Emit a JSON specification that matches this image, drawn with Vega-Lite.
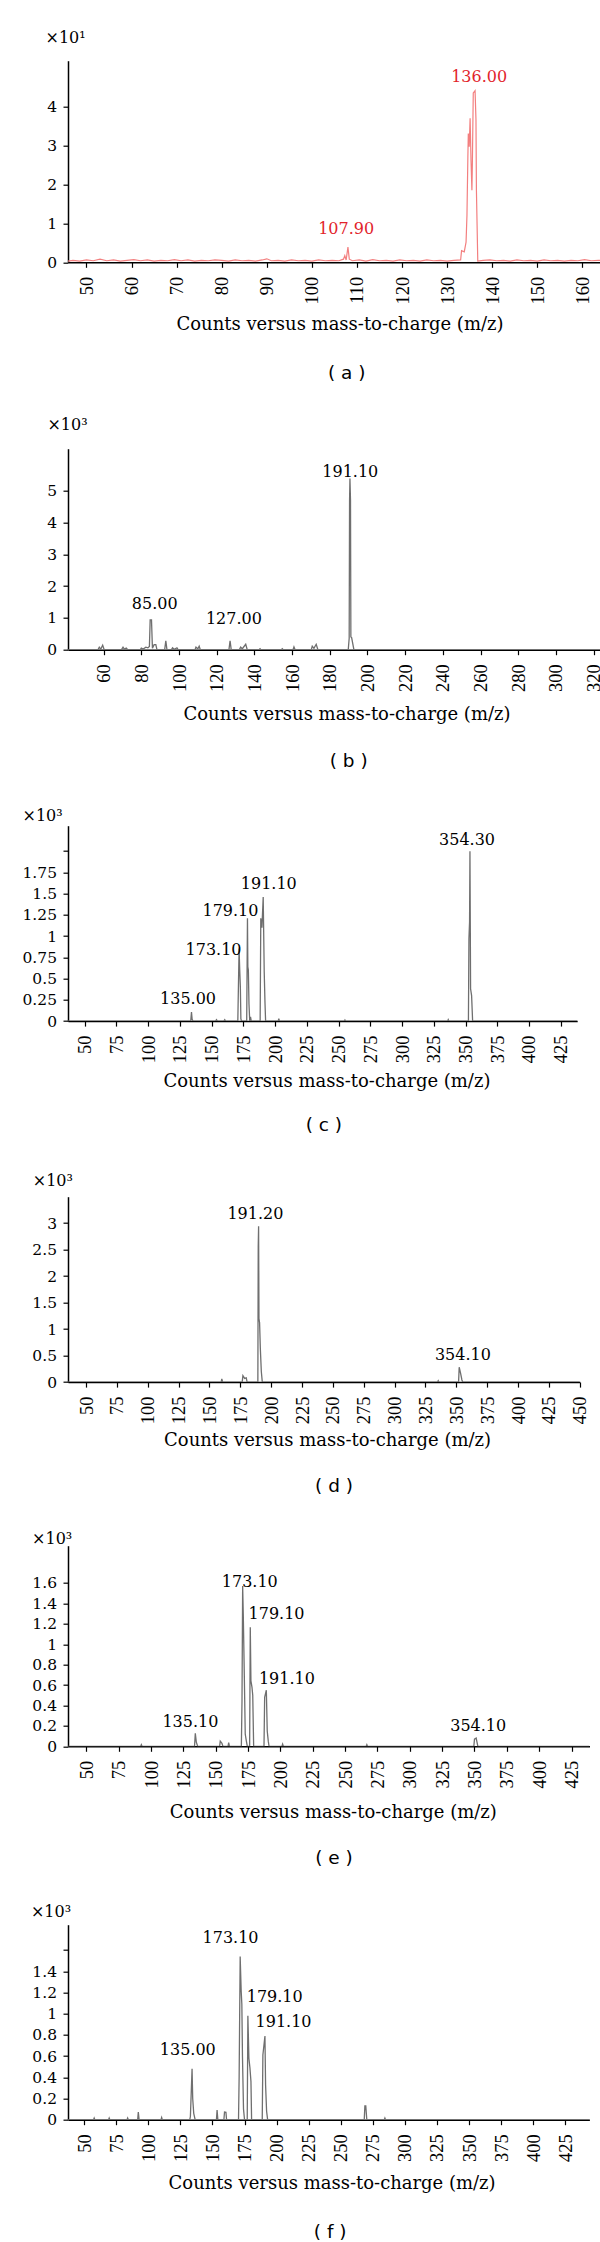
{
  "$schema": "https://vega.github.io/schema/vega-lite/v6.json",
  "background": "white",
  "padding": {"left": 21, "top": 29.7, "right": 0, "bottom": 0},
  "columns": 1,
  "align": "none",
  "spacing": 0,
  "bounds": "full",
  "config": {
    "view": {"stroke": null},
    "axis": {"domainColor": "black", "domainWidth": 1.5, "tickColor": "black", "tickWidth": 1.2, "tickSize": 5, "labelColor": "black", "titleColor": "black", "grid": false, "labelFlush": false, "labelOverlap": false, "titleFontWeight": "normal"},
    "axisX": {"labelAngle": 270, "labelFont": "Liberation Serif", "labelFontSize": 18.5, "labelPadding": 9, "titleFont": "DejaVu Serif", "titleFontSize": 18, "titleAlign": "center", "titleBaseline": "top"},
    "axisY": {"labelExpr": "format(datum.value, '.3~g')", "labelFont": "DejaVu Serif", "labelFontSize": 15.5, "labelPadding": 6.5, "titleFont": "DejaVu Serif", "titleFontSize": 16, "titleAngle": 0, "titleAlign": "left", "titleBaseline": "alphabetic"},
    "title": {"font": "DejaVu Sans", "fontSize": 18.5, "fontWeight": "normal", "color": "black", "orient": "bottom", "frame": "group", "anchor": "middle"},
    "text": {"font": "DejaVu Serif", "fontSize": 16, "align": "center", "baseline": "alphabetic"}
  },
  "datasets": {
    "a": [{"x":45.9,"y":0.03},{"x":47,"y":0.05},{"x":48.5,"y":0.03},{"x":50,"y":0.06},{"x":51.5,"y":0.04},{"x":53,"y":0.08},{"x":54.5,"y":0.04},{"x":56,"y":0.06},{"x":57.5,"y":0.03},{"x":59,"y":0.05},{"x":60.5,"y":0.07},{"x":62,"y":0.04},{"x":63.5,"y":0.06},{"x":65,"y":0.03},{"x":66.5,"y":0.05},{"x":68,"y":0.04},{"x":69.5,"y":0.07},{"x":71,"y":0.04},{"x":72.5,"y":0.06},{"x":74,"y":0.03},{"x":75.5,"y":0.05},{"x":77,"y":0.04},{"x":78.5,"y":0.06},{"x":80,"y":0.05},{"x":81.5,"y":0.03},{"x":83,"y":0.06},{"x":84.5,"y":0.04},{"x":86,"y":0.05},{"x":87.5,"y":0.03},{"x":89,"y":0.06},{"x":90,"y":0.09},{"x":91,"y":0.04},{"x":92.5,"y":0.05},{"x":94,"y":0.03},{"x":95.5,"y":0.06},{"x":97,"y":0.04},{"x":98.5,"y":0.05},{"x":100,"y":0.03},{"x":101.5,"y":0.06},{"x":103,"y":0.04},{"x":104.5,"y":0.05},{"x":106,"y":0.04},{"x":107,"y":0.08},{"x":107.3,"y":0.17},{"x":107.6,"y":0.06},{"x":108,"y":0.39},{"x":108.3,"y":0.08},{"x":109,"y":0.04},{"x":110.5,"y":0.06},{"x":112,"y":0.03},{"x":113.5,"y":0.07},{"x":115,"y":0.04},{"x":116.5,"y":0.05},{"x":118,"y":0.03},{"x":119.5,"y":0.06},{"x":121,"y":0.04},{"x":122.5,"y":0.05},{"x":124,"y":0.03},{"x":125.5,"y":0.06},{"x":127,"y":0.04},{"x":128.5,"y":0.05},{"x":130,"y":0.03},{"x":131.5,"y":0.05},{"x":133,"y":0.06},{"x":133.2,"y":0.3},{"x":133.8,"y":0.27},{"x":134.2,"y":0.52},{"x":134.4,"y":1.2},{"x":134.6,"y":2.7},{"x":134.7,"y":3.31},{"x":134.9,"y":2.97},{"x":135.1,"y":3.7},{"x":135.3,"y":2.62},{"x":135.5,"y":1.85},{"x":135.6,"y":2.54},{"x":135.8,"y":4.35},{"x":136.2,"y":4.41},{"x":136.4,"y":3.66},{"x":136.5,"y":1.85},{"x":136.8,"y":0.03},{"x":138,"y":0.05},{"x":139.5,"y":0.06},{"x":141,"y":0.04},{"x":142.5,"y":0.05},{"x":144,"y":0.03},{"x":145.5,"y":0.06},{"x":147,"y":0.04},{"x":148.5,"y":0.05},{"x":150,"y":0.03},{"x":151.5,"y":0.06},{"x":153,"y":0.04},{"x":154.5,"y":0.05},{"x":156,"y":0.03},{"x":157.5,"y":0.05},{"x":159,"y":0.04},{"x":160.5,"y":0.07},{"x":162,"y":0.04},{"x":163.5,"y":0.05},{"x":164.8,"y":0.04}],
    "a_lab": [{"x":107.6,"y":0.73,"t":"107.90"},{"x":137.1,"y":4.62,"t":"136.00"}],
    "b": [{"x":41.1,"y":0},{"x":57,"y":0},{"x":57.7,"y":0.08},{"x":58.5,"y":0.02},{"x":59.5,"y":0.14},{"x":60.3,"y":0},{"x":69.5,"y":0},{"x":70.3,"y":0.08},{"x":71,"y":0.02},{"x":72,"y":0.05},{"x":72.8,"y":0},{"x":79.5,"y":0},{"x":80,"y":0.05},{"x":81,"y":0.02},{"x":82.4,"y":0.08},{"x":83.5,"y":0.06},{"x":84.3,"y":0.1},{"x":84.7,"y":0.94},{"x":85.4,"y":0.94},{"x":85.9,"y":0.05},{"x":86.8,"y":0.16},{"x":87.7,"y":0.16},{"x":88.3,"y":0},{"x":92.4,"y":0},{"x":93,"y":0.28},{"x":93.6,"y":0},{"x":96,"y":0},{"x":96.6,"y":0.06},{"x":97.5,"y":0.01},{"x":98.9,"y":0.06},{"x":99.5,"y":0},{"x":108.5,"y":0},{"x":109,"y":0.08},{"x":110,"y":0.03},{"x":110.7,"y":0.11},{"x":111.3,"y":0},{"x":126.5,"y":0},{"x":127.1,"y":0.28},{"x":127.7,"y":0},{"x":132,"y":0},{"x":132.7,"y":0.08},{"x":133.6,"y":0.03},{"x":135.4,"y":0.17},{"x":136.2,"y":0},{"x":142.5,"y":0},{"x":143,"y":0.03},{"x":143.5,"y":0},{"x":154.3,"y":0},{"x":154.8,"y":0.03},{"x":155.3,"y":0},{"x":160.5,"y":0},{"x":161,"y":0.09},{"x":161.6,"y":0},{"x":170.2,"y":0},{"x":170.7,"y":0.11},{"x":171.6,"y":0.04},{"x":172.8,"y":0.17},{"x":173.7,"y":0},{"x":189.8,"y":0},{"x":190.3,"y":0.36},{"x":190.5,"y":4.7},{"x":190.7,"y":5.38},{"x":191,"y":4.7},{"x":191.2,"y":0.4},{"x":191.6,"y":0.38},{"x":192.8,"y":0},{"x":324.5,"y":0}],
    "b_lab": [{"x":87.1,"y":1.29,"t":"85.00"},{"x":129.1,"y":0.82,"t":"127.00"},{"x":190.9,"y":5.43,"t":"191.10"}],
    "c": [{"x":36.8,"y":0},{"x":133.5,"y":0},{"x":134.1,"y":0.106},{"x":134.6,"y":0.02},{"x":135.3,"y":0},{"x":153,"y":0},{"x":153.8,"y":0.016},{"x":154.5,"y":0},{"x":159.6,"y":0},{"x":160.3,"y":0.016},{"x":161,"y":0},{"x":170.6,"y":0},{"x":171.6,"y":0.854},{"x":172.1,"y":0.6},{"x":172.6,"y":0.4},{"x":173,"y":0.03},{"x":173.5,"y":0},{"x":177.6,"y":0},{"x":178.2,"y":1.21},{"x":178.5,"y":0.64},{"x":178.9,"y":0.6},{"x":179.4,"y":0.2},{"x":180,"y":0},{"x":180.6,"y":0.05},{"x":181.2,"y":0},{"x":188.2,"y":0},{"x":188.7,"y":1.21},{"x":189.6,"y":1.1},{"x":190.6,"y":1.46},{"x":191.4,"y":0.58},{"x":192,"y":0.22},{"x":192.5,"y":0},{"x":202.4,"y":0},{"x":202.9,"y":0.03},{"x":203.4,"y":0},{"x":254.5,"y":0},{"x":255,"y":0.012},{"x":255.5,"y":0},{"x":336,"y":0},{"x":336.4,"y":0.016},{"x":336.9,"y":0},{"x":352.3,"y":0},{"x":352.7,"y":0.97},{"x":353.2,"y":1.17},{"x":353.5,"y":2.0},{"x":354,"y":0.38},{"x":354.8,"y":0.3},{"x":355.6,"y":0},{"x":438,"y":0}],
    "c_lab": [{"x":131.4,"y":0.2,"t":"135.00"},{"x":151.5,"y":0.78,"t":"173.10"},{"x":164.8,"y":1.24,"t":"179.10"},{"x":195,"y":1.55,"t":"191.10"},{"x":351.2,"y":2.07,"t":"354.30"}],
    "d": [{"x":35.4,"y":0},{"x":159.5,"y":0},{"x":160,"y":0.06},{"x":160.7,"y":0},{"x":176.5,"y":0},{"x":177.1,"y":0.12},{"x":178.5,"y":0.07},{"x":179.8,"y":0.08},{"x":180.5,"y":0},{"x":189.2,"y":0},{"x":189.5,"y":2.56},{"x":189.8,"y":2.94},{"x":190.1,"y":1.2},{"x":190.6,"y":1.12},{"x":191.2,"y":0.64},{"x":192,"y":0.2},{"x":192.8,"y":0},{"x":334.8,"y":0},{"x":335.3,"y":0.025},{"x":335.8,"y":0},{"x":351.8,"y":0},{"x":352.3,"y":0.28},{"x":353.4,"y":0.17},{"x":354.5,"y":0.04},{"x":355.2,"y":0},{"x":450,"y":0}],
    "d_lab": [{"x":187.2,"y":3.07,"t":"191.20"},{"x":355.3,"y":0.41,"t":"354.10"}],
    "e": [{"x":35.8,"y":0},{"x":92,"y":0},{"x":92.5,"y":0.016},{"x":93,"y":0},{"x":133.6,"y":0},{"x":134.2,"y":0.127},{"x":135,"y":0.04},{"x":136,"y":0},{"x":153,"y":0},{"x":153.5,"y":0.05},{"x":154.8,"y":0.03},{"x":155.5,"y":0},{"x":159.5,"y":0},{"x":160,"y":0.036},{"x":160.6,"y":0},{"x":169.8,"y":0},{"x":170.3,"y":0.45},{"x":170.8,"y":1.57},{"x":171.3,"y":1.28},{"x":172.1,"y":0.68},{"x":172.8,"y":0.12},{"x":173.6,"y":0.055},{"x":174.4,"y":0},{"x":176.2,"y":0},{"x":176.7,"y":1.165},{"x":177.2,"y":0.64},{"x":178,"y":0.58},{"x":178.6,"y":0.5},{"x":179.3,"y":0},{"x":187.3,"y":0},{"x":187.8,"y":0.48},{"x":189.1,"y":0.55},{"x":189.8,"y":0.15},{"x":190.6,"y":0.05},{"x":191.2,"y":0},{"x":201.2,"y":0},{"x":201.7,"y":0.02},{"x":202.2,"y":0},{"x":266.3,"y":0},{"x":266.8,"y":0.016},{"x":267.3,"y":0},{"x":349.5,"y":0},{"x":350,"y":0.07},{"x":351.3,"y":0.08},{"x":352.6,"y":0},{"x":438.9,"y":0}],
    "e_lab": [{"x":130.4,"y":0.19,"t":"135.10"},{"x":176.3,"y":1.56,"t":"173.10"},{"x":197,"y":1.25,"t":"179.10"},{"x":205,"y":0.61,"t":"191.10"},{"x":352.9,"y":0.15,"t":"354.10"}],
    "f": [{"x":37.4,"y":0},{"x":57.3,"y":0},{"x":57.8,"y":0.016},{"x":58.3,"y":0},{"x":69,"y":0},{"x":69.5,"y":0.016},{"x":70,"y":0},{"x":83.4,"y":0},{"x":83.9,"y":0.016},{"x":84.4,"y":0},{"x":91.7,"y":0},{"x":92.2,"y":0.072},{"x":92.8,"y":0},{"x":109.9,"y":0},{"x":110.4,"y":0.02},{"x":110.9,"y":0},{"x":132.3,"y":0},{"x":132.8,"y":0.03},{"x":134.1,"y":0.48},{"x":134.6,"y":0.2},{"x":135.4,"y":0.06},{"x":136.5,"y":0},{"x":153.1,"y":0},{"x":153.6,"y":0.09},{"x":154.2,"y":0},{"x":158.9,"y":0},{"x":159.4,"y":0.072},{"x":160.5,"y":0.07},{"x":161,"y":0},{"x":170.3,"y":0},{"x":170.8,"y":0.41},{"x":171.6,"y":1.54},{"x":172.4,"y":1.21},{"x":172.9,"y":1.09},{"x":173.4,"y":0.59},{"x":174.2,"y":0.1},{"x":175,"y":0},{"x":177.1,"y":0},{"x":177.6,"y":0.98},{"x":178.4,"y":0.58},{"x":179.2,"y":0.49},{"x":180,"y":0.36},{"x":180.5,"y":0},{"x":188.8,"y":0},{"x":189.3,"y":0.61},{"x":190.9,"y":0.79},{"x":191.4,"y":0.33},{"x":192.2,"y":0.08},{"x":193,"y":0},{"x":268.3,"y":0},{"x":268.8,"y":0.13},{"x":269.5,"y":0.13},{"x":270.3,"y":0},{"x":283.9,"y":0},{"x":284.4,"y":0.016},{"x":284.9,"y":0},{"x":443.8,"y":0}],
    "f_lab": [{"x":130.8,"y":0.61,"t":"135.00"},{"x":164.1,"y":1.67,"t":"173.10"},{"x":198.5,"y":1.11,"t":"179.10"},{"x":205.4,"y":0.87,"t":"191.10"}]
  },
  "concat": [
    {
      "width": 536, "height": 201.6,
      "title": {"text": ["( a )", ""], "offset": 30.5, "dx": 10.7, "lineHeight": 32},
      "encoding": {
        "x": {"field": "x", "type": "quantitative", "scale": {"domain": [45.9, 164.8], "nice": false, "zero": false},
              "axis": {"values": [50,60,70,80,90,100,110,120,130,140,150,160], "title": "Counts versus mass-to-charge (m/z)", "titleX": 271.5, "titleY": 53.7}},
        "y": {"field": "y", "type": "quantitative", "scale": {"domain": [0, 5.18], "nice": false},
              "axis": {"values": [0,1,2,3,4], "title": "×10¹", "titleX": -23, "titleY": -18}}
      },
      "layer": [
        {"data": {"name": "a"}, "mark": {"type": "line", "color": "#f37f7f", "strokeWidth": 1.2, "clip": true}},
        {"data": {"name": "a_lab"}, "mark": {"type": "text", "color": "#e2232b"}, "encoding": {"text": {"field": "t"}}}
      ]
    },
    {
      "width": 534.1, "height": 201,
      "title": {"text": ["( b )", ""], "offset": 28.1, "dx": 13.6, "lineHeight": 36.1},
      "encoding": {
        "x": {"field": "x", "type": "quantitative", "scale": {"domain": [41.1, 324.5], "nice": false, "zero": false},
              "axis": {"values": [60,80,100,120,140,160,180,200,220,240,260,280,300,320], "title": "Counts versus mass-to-charge (m/z)", "titleX": 278.5, "titleY": 56}},
        "y": {"field": "y", "type": "quantitative", "scale": {"domain": [0, 6.32], "nice": false},
              "axis": {"values": [0,1,2,3,4,5], "title": "×10³", "titleX": -21.1, "titleY": -19.3}}
      },
      "layer": [
        {"data": {"name": "b"}, "mark": {"type": "line", "color": "#6f6f6f", "strokeWidth": 1.3, "clip": true}},
        {"data": {"name": "b_lab"}, "mark": {"type": "text", "color": "black"}, "encoding": {"text": {"field": "t"}}}
      ]
    },
    {
      "width": 509.2, "height": 195.4,
      "title": {"text": ["( c )", ""], "offset": 25.7, "dx": 1.2, "lineHeight": 36.5},
      "encoding": {
        "x": {"field": "x", "type": "quantitative", "scale": {"domain": [36.8, 438], "nice": false, "zero": false},
              "axis": {"values": [50,75,100,125,150,175,200,225,250,275,300,325,350,375,400,425], "title": "Counts versus mass-to-charge (m/z)", "titleX": 258.4, "titleY": 51.3}},
        "y": {"field": "y", "type": "quantitative", "scale": {"domain": [0, 2.3], "nice": false},
              "axis": {"values": [0,0.25,0.5,0.75,1,1.25,1.5,1.75,2], "labelExpr": "datum.value > 1.9 ? '' : format(datum.value, '.3~g')", "title": "×10³", "titleX": -46, "titleY": -5.3}}
      },
      "layer": [
        {"data": {"name": "c"}, "mark": {"type": "line", "color": "#6f6f6f", "strokeWidth": 1.3, "clip": true}},
        {"data": {"name": "c_lab"}, "mark": {"type": "text", "color": "black"}, "encoding": {"text": {"field": "t"}}}
      ]
    },
    {
      "width": 511.8, "height": 185.4,
      "title": {"text": ["( d )", ""], "offset": 27.7, "dx": 10.1, "lineHeight": 34.5},
      "encoding": {
        "x": {"field": "x", "type": "quantitative", "scale": {"domain": [35.4, 450], "nice": false, "zero": false},
              "axis": {"values": [50,75,100,125,150,175,200,225,250,275,300,325,350,375,400,425,450], "title": "Counts versus mass-to-charge (m/z)", "titleX": 259.1, "titleY": 49.6}},
        "y": {"field": "y", "type": "quantitative", "scale": {"domain": [0, 3.5], "nice": false},
              "axis": {"values": [0,0.5,1,1.5,2,2.5,3], "title": "×10³", "titleX": -35.7, "titleY": -11.6}}
      },
      "layer": [
        {"data": {"name": "d"}, "mark": {"type": "line", "color": "#6f6f6f", "strokeWidth": 1.3, "clip": true}},
        {"data": {"name": "d_lab"}, "mark": {"type": "text", "color": "black"}, "encoding": {"text": {"field": "t"}}}
      ]
    },
    {
      "width": 521.5, "height": 200.6,
      "title": {"text": ["( e )", ""], "offset": 27, "dx": 5.3, "lineHeight": 35.2},
      "encoding": {
        "x": {"field": "x", "type": "quantitative", "scale": {"domain": [35.8, 438.9], "nice": false, "zero": false},
              "axis": {"values": [50,75,100,125,150,175,200,225,250,275,300,325,350,375,400,425], "title": "Counts versus mass-to-charge (m/z)", "titleX": 264.8, "titleY": 57.7}},
        "y": {"field": "y", "type": "quantitative", "scale": {"domain": [0, 1.965], "nice": false},
              "axis": {"values": [0,0.2,0.4,0.6,0.8,1,1.2,1.4,1.6], "title": "×10³", "titleX": -36.4, "titleY": -1.7}}
      },
      "layer": [
        {"data": {"name": "e"}, "mark": {"type": "line", "color": "#6f6f6f", "strokeWidth": 1.3, "clip": true}},
        {"data": {"name": "e_lab"}, "mark": {"type": "text", "color": "black"}, "encoding": {"text": {"field": "t"}}}
      ]
    },
    {
      "width": 521.4, "height": 195,
      "title": {"text": "( f )", "offset": 30, "dx": 1.5},
      "encoding": {
        "x": {"field": "x", "type": "quantitative", "scale": {"domain": [37.4, 443.8], "nice": false, "zero": false},
              "axis": {"values": [50,75,100,125,150,175,200,225,250,275,300,325,350,375,400,425], "title": "Counts versus mass-to-charge (m/z)", "titleX": 263.6, "titleY": 55}},
        "y": {"field": "y", "type": "quantitative", "scale": {"domain": [0, 1.84], "nice": false},
              "axis": {"values": [0,0.2,0.4,0.6,0.8,1,1.2,1.4,1.6], "labelExpr": "datum.value > 1.5 ? '' : format(datum.value, '.3~g')", "title": "×10³", "titleX": -37.6, "titleY": -8.3}}
      },
      "layer": [
        {"data": {"name": "f"}, "mark": {"type": "line", "color": "#6f6f6f", "strokeWidth": 1.3, "clip": true}},
        {"data": {"name": "f_lab"}, "mark": {"type": "text", "color": "black"}, "encoding": {"text": {"field": "t"}}}
      ]
    }
  ]
}
